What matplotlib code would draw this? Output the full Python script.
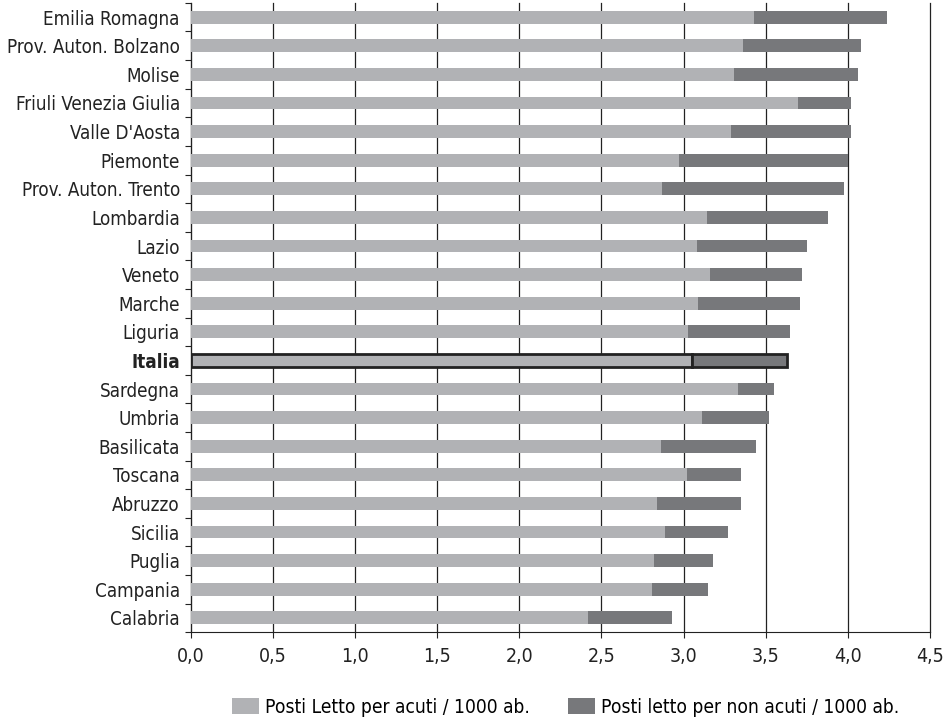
import numpy as np
import matplotlib.pyplot as plt
from matplotlib.ticker import FixedLocator, FuncFormatter

# === Dati ===
regioni = ['Emilia Romagna', 'Prov. Auton. Bolzano', 'Molise', 'Friuli Venezia Giulia',
           "Valle D'Aosta", 'Piemonte', 'Prov. Auton. Trento', 'Lombardia', 'Lazio',
           'Veneto', 'Marche', 'Liguria', 'Italia', 'Sardegna', 'Umbria', 'Basilicata',
           'Toscana', 'Abruzzo', 'Sicilia', 'Puglia', 'Campania', 'Calabria']
acuti = [3.43, 3.36, 3.31, 3.70, 3.29, 2.97, 2.87, 3.14, 3.08,
         3.16, 3.09, 3.03, 3.05, 3.33, 3.11, 2.86,
         3.02, 2.84, 2.89, 2.82, 2.81, 2.42]
non_acuti = [0.81, 0.72, 0.75, 0.32, 0.73, 1.03, 1.11, 0.74, 0.67,
             0.56, 0.62, 0.62, 0.58, 0.22, 0.41, 0.58,
             0.33, 0.51, 0.38, 0.36, 0.34, 0.51]

col_acuti = '#b1b2b5'
col_non_acuti = '#77787b'

# font condensato se disponibile
plt.rcParams['font.family'] = ['Liberation Sans Narrow', 'DejaVu Sans Condensed', 'DejaVu Sans']
plt.rcParams['font.stretch'] = 'condensed'
plt.rcParams['font.size'] = 13.5

fig = plt.figure(figsize=(9.43, 7.2), dpi=100)
ax = fig.add_axes([0.2025, 0.122, 0.7835, 0.874])

y = np.arange(len(regioni))
ax.barh(y, acuti, height=0.45, color=col_acuti, label='Posti Letto per acuti / 1000 ab.', zorder=3)
ax.barh(y, non_acuti, left=acuti, height=0.45, color=col_non_acuti,
        label='Posti letto per non acuti / 1000 ab.', zorder=3)

# === Evidenziare Italia ===
i_it = regioni.index('Italia')
ax.barh(y[i_it], acuti[i_it], height=0.45, color=col_acuti, edgecolor='#222222', linewidth=2, zorder=4)
ax.barh(y[i_it], non_acuti[i_it], left=acuti[i_it], height=0.45, color=col_non_acuti,
        edgecolor='#222222', linewidth=2, zorder=4)

ax.set_ylim(len(regioni) - 0.5, -0.5)
ax.set_xlim(0, 4.5)
ax.set_xticks(np.arange(0, 4.51, 0.5))
ax.xaxis.set_major_formatter(FuncFormatter(lambda v, p: f'{v:.1f}'.replace('.', ',')))
ax.set_yticks(y)
ax.set_yticklabels(regioni)
for lab in ax.get_yticklabels():
    if lab.get_text() == 'Italia':
        lab.set_fontweight('bold')
ax.yaxis.set_minor_locator(FixedLocator(np.arange(-0.5, len(regioni), 1)))
ax.tick_params(axis='y', which='major', length=0, pad=8, labelsize=13.5, colors='#222222')
ax.tick_params(axis='y', which='minor', length=4, width=0.8, color='#222222')
ax.tick_params(axis='x', which='major', length=4, width=0.8, pad=7, labelsize=14, colors='#222222')

ax.grid(axis='x', color='#222222', linewidth=0.9, zorder=0)
for linea in ax.get_xgridlines():
    linea.set_clip_on(False)
for s in ['top', 'right']:
    ax.spines[s].set_visible(False)
ax.spines['left'].set_color('#222222')
ax.spines['bottom'].set_color('#222222')

fig.legend(loc='center', bbox_to_anchor=(0.600, 0.018), ncol=2, frameon=False,
           fontsize=13.8, handlelength=1.4, handleheight=0.95, handletextpad=0.3, columnspacing=2.0)

plt.savefig('out.png', dpi=100)
